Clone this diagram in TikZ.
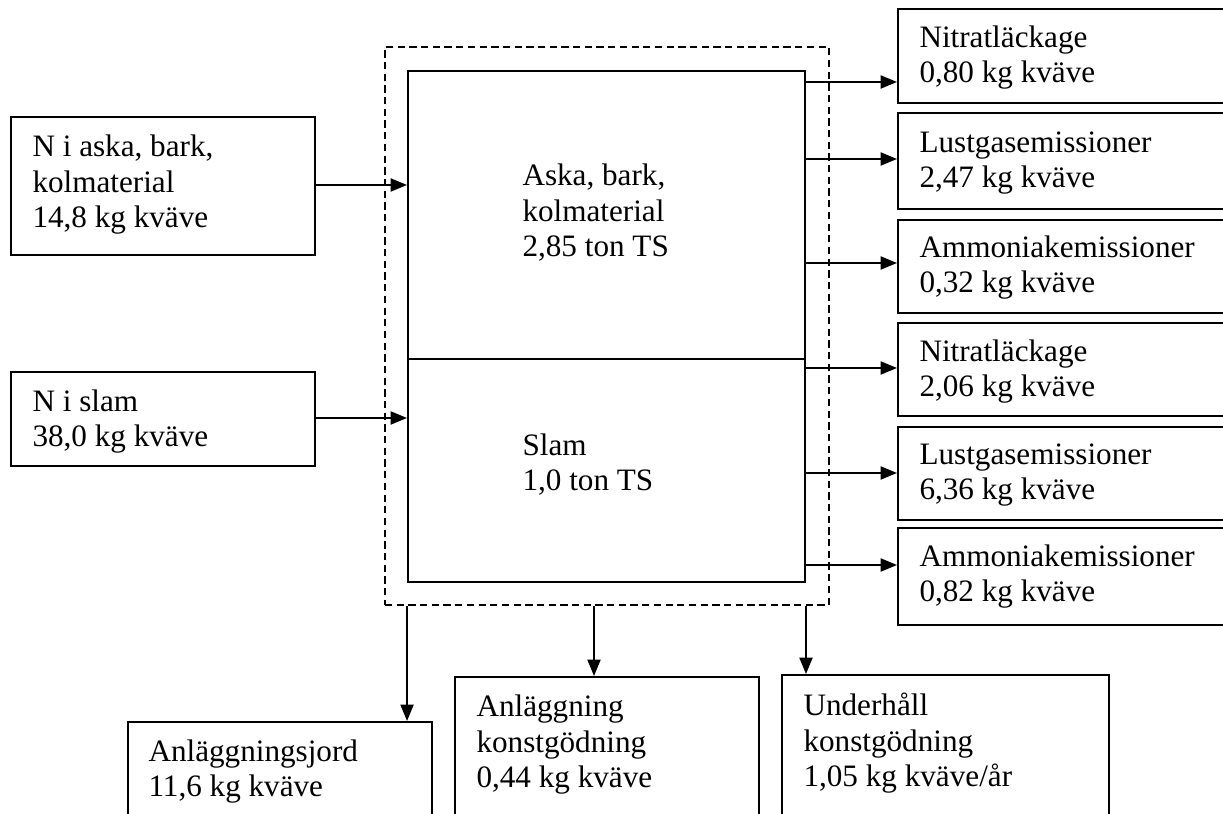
\documentclass[tikz,border=0pt]{standalone}
\usepackage{fontspec}
\setmainfont{Liberation Serif}
\usetikzlibrary{fit,arrows.meta}
\begin{document}
\begin{tikzpicture}[x=0.385pt,y=-0.385pt,
  box/.style={draw,line width=0.75pt,inner sep=0pt},
  dbox/.style={draw,line width=0.75pt,inner sep=0pt,dash pattern=on 2.8pt off 1.7pt},
  arr/.style={line width=0.75pt,-{Triangle[length=6.3pt,width=5pt]}},
  txt/.style={anchor=base west,align=left,inner sep=0pt,font=\fontsize{12pt}{13.8pt}\selectfont}]
\useasboundingbox (0,0) rectangle (1223,814);
\clip (0,0) rectangle (1223,814);
% central boxes
\node[dbox,fit={(385,47) (829,605)}] (sys) {};
\node[box,fit={(408,71) (805,359)}] (aska) {};
\node[box,fit={(408,359) (805,582)}] (slam) {};
% inputs
\node[box,fit={(11,117) (315,255)}] (in1) {};
\node[box,fit={(11,372) (315,466)}] (in2) {};
% outputs right
\node[box,fit={(898,9) (1240,103)}] (r1) {};
\node[box,fit={(898,113) (1240,209)}] (r2) {};
\node[box,fit={(898,220) (1240,313)}] (r3) {};
\node[box,fit={(898,323) (1240,416)}] (r4) {};
\node[box,fit={(898,427) (1240,520)}] (r5) {};
\node[box,fit={(898,528) (1240,625)}] (r6) {};
% outputs bottom
\node[box,fit={(128,722) (432,840)}] (b1) {};
\node[box,fit={(455,677) (759,840)}] (b2) {};
\node[box,fit={(782,675) (1109,840)}] (b3) {};
% texts (anchor at baseline of last line)
\node[txt] (t1) at (32,228) {N i aska, bark,\\kolmaterial\\14,8 kg kväve};
\node[txt] (t2) at (32,447) {N i slam\\38,0 kg kväve};
\node[txt] (ta) at (522,257) {Aska, bark,\\kolmaterial\\2,85 ton TS};
\node[txt] (ts) at (522,491) {Slam\\1,0 ton TS};
\node[txt] (tr1) at (919,83) {Nitratläckage\\0,80 kg kväve};
\node[txt] (tr2) at (919,188) {Lustgasemissioner\\2,47 kg kväve};
\node[txt] (tr3) at (919,293) {Ammoniakemissioner\\0,32 kg kväve};
\node[txt] (tr4) at (919,397) {Nitratläckage\\2,06 kg kväve};
\node[txt] (tr5) at (919,500) {Lustgasemissioner\\6,36 kg kväve};
\node[txt] (tr6) at (919,602) {Ammoniakemissioner\\0,82 kg kväve};
\node[txt] (tb1) at (148,797) {Anläggningsjord\\11,6 kg kväve};
\node[txt] (tb2) at (476,788) {Anläggning\\konstgödning\\0,44 kg kväve};
\node[txt] (tb3) at (803,787) {Underhåll\\konstgödning\\1,05 kg kväve/år};
% input arrows
\draw[arr] (in1.east |- 0,185) -- (aska.west |- 0,185);
\draw[arr] (in2.east |- 0,418) -- (slam.west |- 0,418);
% right arrows
\draw[arr] (aska.east |- 0,82) -- (r1.west |- 0,82);
\draw[arr] (aska.east |- 0,159) -- (r2.west |- 0,159);
\draw[arr] (aska.east |- 0,263) -- (r3.west |- 0,263);
\draw[arr] (slam.east |- 0,368) -- (r4.west |- 0,368);
\draw[arr] (slam.east |- 0,473) -- (r5.west |- 0,473);
\draw[arr] (slam.east |- 0,565) -- (r6.west |- 0,565);
% bottom arrows
\draw[arr] (sys.south -| slam.west) -- (b1.north -| slam.west);
\draw[arr] (sys.south -| 594,0) -- (b2.north -| 594,0);
\draw[arr] (sys.south -| slam.east) -- (b3.north -| slam.east);
\end{tikzpicture}
\end{document}
